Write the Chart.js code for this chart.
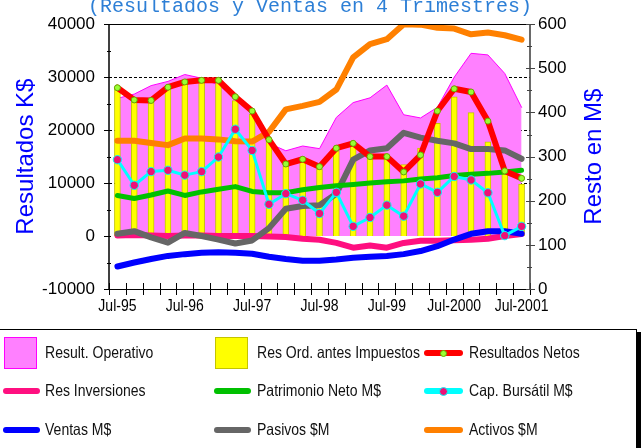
<!DOCTYPE html>
<html>
<head>
<meta charset="utf-8">
<script src="https://cdn.jsdelivr.net/npm/chart.js@4.4.1/dist/chart.umd.min.js"></script>
<style>
  html, body { margin: 0; padding: 0; background: #fff; overflow: hidden; }
  #wrap { position: relative; width: 641px; height: 448px; }
  #chart { position: absolute; left: 0; top: 0; }
  #legend {
    position: absolute; left: -1px; top: 329px; width: 636px; height: 130px;
    border: 1px solid #000; box-shadow: 4px 3px 0 #000; background: #fff;
  }
  .mk { position: absolute; box-sizing: border-box; }
  .dot { position: absolute; border-radius: 50%; box-sizing: border-box; }
  .lbl {
    position: absolute; white-space: nowrap; color: #111; line-height: 20px;
    font: 16.5px "Liberation Sans", Arial, sans-serif;
    transform: scaleX(0.85); transform-origin: 0 50%;
  }
</style>
</head>
<body>
<div id="wrap">
  <canvas id="chart" width="641" height="330"></canvas>
  <div id="legend"></div>
</div>
<script>
const QUARTERS = ['Jul-95', 'Oct-95', 'Jan-96', 'Apr-96', 'Jul-96', 'Oct-96', 'Jan-97', 'Apr-97',
  'Jul-97', 'Oct-97', 'Jan-98', 'Apr-98', 'Jul-98', 'Oct-98', 'Jan-99', 'Apr-99', 'Jul-99',
  'Oct-99', 'Jan-2000', 'Apr-2000', 'Jul-2000', 'Oct-2000', 'Jan-2001', 'Apr-2001', 'Jul-2001'];

// left axis, K$
const RESULT_OPERATIVO = [26000, 26800, 28400, 29200, 30500, 29800, 28500, 26000, 23000, 17500, 16100, 17000, 16500,
  22400, 25200, 26100, 28500, 22900, 22300, 24300, 30000, 34500, 34200, 30700, 24300];
const RES_ORD = [27800, 25500, 25500, 28000, 29000, 29400, 29400, 25600, 23000, 18000, 13200, 14000, 12600,
  16100, 17200, 14700, 14700, 13500, 16600, 21300, 26300, 23300, 17800, 12300, 9800];
const RES_NETOS = [28000, 25700, 25600, 28100, 29100, 29400, 29400, 26300, 23600, 18200, 13600, 14500, 13100,
  16600, 17500, 15000, 15000, 12100, 15300, 23600, 27800, 27200, 21700, 12300, 10900];
const RES_INVERSIONES = [100, 200, 100, 0, 100, 100, 0, 0, 0, -100, -200, -500, -700,
  -1300, -2200, -1800, -2200, -1300, -900, -900, -800, -700, -500, 0, 400];

// right axis, M$
const PATRIMONIO = [212, 205, 213, 222, 212, 220, 226, 232, 221, 218, 218, 225, 230,
  234, 237, 240, 243, 245, 249, 252, 257, 260, 262, 265, 269];
const CAP_BURSATIL = [293, 235, 266, 269, 258, 266, 299, 362, 314, 192, 216, 201, 171,
  219, 142, 162, 190, 165, 238, 219, 255, 247, 218, 121, 142];
const VENTAS = [51, 60, 68, 75, 79, 82, 83, 82, 80, 73, 68, 64, 64,
  67, 71, 73, 75, 79, 86, 97, 112, 125, 131, 131, 125];
const PASIVOS = [125, 131, 117, 105, 127, 120, 112, 103, 110, 138, 182, 188, 190,
  216, 293, 314, 319, 354, 343, 336, 330, 317, 317, 314, 295];
const ACTIVOS = [336, 336, 331, 326, 341, 341, 339, 335, 334, 356, 407, 415, 424,
  452, 525, 555, 566, 600, 599, 592, 590, 577, 581, 575, 565];

const LEFT_TICKS = [-10000, 0, 10000, 20000, 30000, 40000];
const RIGHT_TICKS = [0, 100, 200, 300, 400, 500, 600];
const DASHED_AT = [10000, 20000, 30000];

const SANS = '"Liberation Sans", Arial, sans-serif';

function lineSet(label, data, axis, color, width, order, extra) {
  return Object.assign({
    type: 'line', label, data, yAxisID: axis, borderColor: color, backgroundColor: color,
    borderWidth: width, pointRadius: 0, tension: 0, fill: false, order, clip: 0,
    borderJoinStyle: 'round', borderCapStyle: 'round'
  }, extra || {});
}

const datasets = [
  lineSet('Result. Operativo', RESULT_OPERATIVO, 'y', '#ff00ff', 1, 10,
    { fill: 'origin', backgroundColor: '#ff80ff', legend: 'area' }),
  { type: 'bar', label: 'Res Ord. antes Impuestos', data: RES_ORD, yAxisID: 'y', backgroundColor: '#ffff00',
    borderColor: '#c4c400', borderWidth: 1, barThickness: 6, order: 9, legend: 'area' },
  lineSet('Resultados Netos', RES_NETOS, 'y', '#ff0000', 6, 2,
    { pointRadius: 3, pointBackgroundColor: '#99ff33', pointBorderColor: '#66aa00', pointBorderWidth: 1, dot: 3.5 }),
  lineSet('Res Inversiones', RES_INVERSIONES, 'y', '#ff0f80', 6, 8),
  lineSet('Patrimonio Neto M$', PATRIMONIO, 'y1', '#00c000', 5, 5),
  lineSet('Cap. Bursátil M$', CAP_BURSATIL, 'y1', '#00ffff', 3, 1,
    { pointRadius: 4.2, pointBackgroundColor: '#ee1177', pointBorderColor: '#00ffff', pointBorderWidth: 1, dot: 4.5 }),
  lineSet('Ventas M$', VENTAS, 'y1', '#0000ff', 6, 7),
  lineSet('Pasivos $M', PASIVOS, 'y1', '#666666', 6, 6),
  lineSet('Activos $M', ACTIVOS, 'y1', '#ff8000', 6, 4),
];

const framePlugin = {
  id: 'frame',
  beforeDatasetsDraw(chart) {
    const { ctx, chartArea: a, scales: { y } } = chart;
    ctx.save();
    ctx.strokeStyle = '#000';
    ctx.lineWidth = 1;
    ctx.setLineDash([3, 2]);
    DASHED_AT.forEach(v => {
      const py = Math.round(y.getPixelForValue(v)) + 0.5;
      ctx.beginPath(); ctx.moveTo(a.left, py); ctx.lineTo(a.right, py); ctx.stroke();
    });
    ctx.restore();
  },
  afterDatasetsDraw(chart) {
    const { ctx, chartArea: a, scales: { x, y, y1 } } = chart;
    ctx.save();
    ctx.lineWidth = 1;
    ctx.strokeStyle = '#000';
    const seg = (x0, y0, x1, y1_) => { ctx.beginPath(); ctx.moveTo(x0, y0); ctx.lineTo(x1, y1_); ctx.stroke(); };
    // top and bottom lines
    seg(a.left, Math.round(a.top) + 0.5, a.right, Math.round(a.top) + 0.5);
    const by = Math.round(a.bottom) + 0.5;
    seg(a.left, by, a.right, by);
    // x ticks at category edges
    const band = x.getPixelForValue(1) - x.getPixelForValue(0);
    for (let i = 0; i <= QUARTERS.length; i++) {
      const px = Math.round(x.getPixelForValue(0) - band / 2 + i * band) + 0.5;
      seg(px, a.bottom - 6, px, a.bottom + 6);
    }
    // left axis
    ctx.lineWidth = 1.5;
    seg(a.left, a.top, a.left, a.bottom + 0.5);
    ctx.lineWidth = 1;
    for (let v = -10000; v <= 40000; v += 5000) {
      const py = Math.round(y.getPixelForValue(v)) + 0.5;
      if (v % 10000 === 0) seg(a.left - 5, py, a.left + 2, py);
      else seg(a.left - 2, py, a.left + 2, py);
    }
    // right axis
    ctx.strokeStyle = '#444';
    ctx.lineWidth = 1.6;
    seg(a.right, a.top, a.right, a.bottom + 0.5);
    ctx.lineWidth = 1;
    for (let v = 0; v <= 600; v += 50) {
      const py = Math.round(y1.getPixelForValue(v)) + 0.5;
      if (v % 100 === 0) seg(a.right - 4, py, a.right + 5, py);
      else seg(a.right - 3, py, a.right + 2, py);
    }
    ctx.restore();
  },
  afterDraw(chart) {
    const { ctx, chartArea: a, scales: { x } } = chart;
    const mid = (a.top + a.bottom) / 2;
    ctx.save();
    // category labels, condensed like the original narrow face
    ctx.fillStyle = '#000';
    ctx.font = '16.5px ' + SANS;
    ctx.textAlign = 'center';
    ctx.textBaseline = 'middle';
    QUARTERS.forEach((q, i) => {
      if (!q.startsWith('Jul')) return;
      ctx.save();
      ctx.translate(x.getPixelForValue(i), a.bottom + 17);
      ctx.scale(0.85, 1);
      ctx.fillText(q, 0, 0);
      ctx.restore();
    });
    ctx.fillStyle = '#2d7fd6';
    ctx.font = '20px "Liberation Mono", "Courier New", monospace';
    ctx.textBaseline = 'alphabetic';
    ctx.fillText('(Resultados y Ventas en 4 Trimestres)', 310, 12);
    ctx.fillStyle = '#0000ff';
    ctx.font = '24px ' + SANS;
    [['Resultados K$', 33], ['Resto en M$', 601]].forEach(([t, bx]) => {
      ctx.save();
      ctx.translate(bx, mid);
      ctx.rotate(-Math.PI / 2);
      ctx.fillText(t, 0, 0);
      ctx.restore();
    });
    ctx.restore();
  }
};

const chart = new Chart(document.getElementById('chart'), {
  type: 'bar',
  data: { labels: QUARTERS, datasets },
  options: {
    responsive: false,
    animation: false,
    events: [],
    layout: { padding: { top: 18, left: 0, right: 0, bottom: 0 } },
    plugins: { legend: { display: false }, tooltip: { enabled: false } },
    scales: {
      x: {
        type: 'category', offset: true,
        grid: { display: false, drawTicks: false }, border: { display: false },
        ticks: { display: false },
        afterFit: s => { s.height = 41; }
      },
      y: {
        position: 'left', min: LEFT_TICKS[0], max: LEFT_TICKS[LEFT_TICKS.length - 1],
        grid: { display: false, drawTicks: false }, border: { display: false },
        ticks: { stepSize: 10000, padding: 14, color: '#000', font: { family: SANS, size: 17 }, callback: v => String(v) },
        afterFit: s => { s.width = 109; }
      },
      y1: {
        position: 'right', min: RIGHT_TICKS[0], max: RIGHT_TICKS[RIGHT_TICKS.length - 1],
        grid: { display: false, drawTicks: false }, border: { display: false },
        ticks: { stepSize: 100, padding: 8, color: '#000', font: { family: SANS, size: 17 }, callback: v => String(v) },
        afterFit: s => { s.width = 111; }
      }
    }
  },
  plugins: [framePlugin]
});

// legend, 3 columns x 3 rows, built from the datasets
function renderLegend() {
  const el = document.getElementById('legend');
  const colX = [3, 214, 424];
  const textX = [45, 257, 469];
  const rowY = [23, 61, 100];
  el.innerHTML = chart.data.datasets.map((d, i) => {
    const cx = colX[i % 3], cy = rowY[Math.floor(i / 3)];
    let mk;
    if (d.legend === 'area') {
      mk = `<div class="mk" style="left:${cx + 1}px;top:${cy - 16}px;width:33px;height:32px;background:${d.backgroundColor};border:1px solid ${d.borderColor}"></div>`;
    } else {
      const w = i % 3 === 2 ? 39 : 37;
      mk = `<div class="mk" style="left:${cx}px;top:${cy - 3}px;width:${w}px;height:6px;border-radius:3px;background:${d.borderColor}"></div>`;
      if (d.dot) {
        const r = d.dot;
        mk += `<div class="dot" style="left:${cx + w / 2 - r}px;top:${cy - r}px;width:${2 * r}px;height:${2 * r}px;background:${d.pointBackgroundColor};border:1px solid ${d.pointBorderColor}"></div>`;
      }
    }
    return mk + `<div class="lbl" style="left:${textX[i % 3]}px;top:${cy - 10}px">${d.label}</div>`;
  }).join('');
}

renderLegend();
</script>
</body>
</html>
